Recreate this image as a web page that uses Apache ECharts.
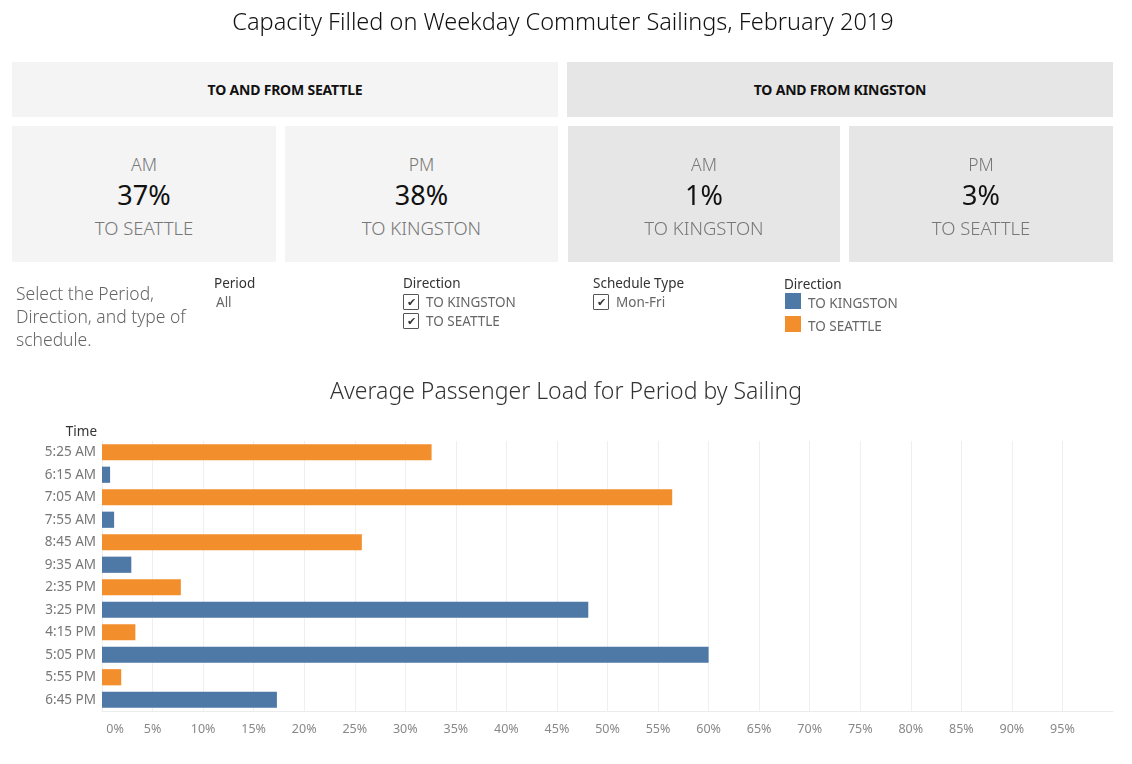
<!DOCTYPE html>
<html>
<head>
<meta charset="utf-8">
<script src="https://cdn.jsdelivr.net/npm/echarts@6/dist/echarts.min.js"></script>
<style>
  html, body { margin:0; padding:0; background:#fff; }
  body { width:1132px; height:764px; position:relative; overflow:hidden; font-family:"Noto Sans", Lato, sans-serif; }
  #chart { position:absolute; left:0; top:0; width:1132px; height:764px; }
  .abs { position:absolute; white-space:nowrap; }
  .box { position:absolute; }
  .hdr { font-weight:bold; font-size:14px; color:#111; display:flex; align-items:center; justify-content:center; letter-spacing:-0.2px; }
  .kpi { text-align:center; }
  .kpi .p { position:absolute; left:0; right:0; top:26px; font-size:17.5px; color:#777; font-weight:300; }
  .kpi .v { position:absolute; left:0; right:0; top:50px; font-size:27px; color:#111; }
  .kpi .d { position:absolute; left:0; right:0; top:89px; font-size:18.5px; color:#777; font-weight:300; }
  .flabel { font-size:13.5px; color:#333; }
  .fval { font-size:13.5px; color:#666; }
  .cb { position:absolute; width:14px; height:14px; border:1.5px solid #555; background:#fff; border-radius:1px; font-size:11px; line-height:14px; text-align:center; color:#333; }
  .sw { position:absolute; width:16px; height:16px; }
</style>
</head>
<body>
<div id="chart"></div>
<div id="overlay"></div>
<script>
// ---------- data ----------
var mainTitle = 'Capacity Filled on Weekday Commuter Sailings, February 2019';
var chartTitle = 'Average Passenger Load for Period by Sailing';
var groupHeaders = ['TO AND FROM SEATTLE', 'TO AND FROM KINGSTON'];
var kpiPeriods = ['AM', 'PM', 'AM', 'PM'];
var kpiValues = ['37%', '38%', '1%', '3%'];
var kpiDirections = ['TO SEATTLE', 'TO KINGSTON', 'TO KINGSTON', 'TO SEATTLE'];
var directionNames = ['TO KINGSTON', 'TO SEATTLE'];
var directionColors = ['#4e79a7', '#f28e2b'];
var categories = ['5:25 AM','6:15 AM','7:05 AM','7:55 AM','8:45 AM','9:35 AM','2:35 PM','3:25 PM','4:15 PM','5:05 PM','5:55 PM','6:45 PM'];
var sailingDirections = ['TO SEATTLE','TO KINGSTON','TO SEATTLE','TO KINGSTON','TO SEATTLE','TO KINGSTON','TO SEATTLE','TO KINGSTON','TO SEATTLE','TO KINGSTON','TO SEATTLE','TO KINGSTON'];
var loads = [32.6, 0.8, 56.4, 1.2, 25.7, 2.9, 7.8, 48.1, 3.3, 60.0, 1.9, 17.3];

// ---------- dashboard chrome ----------
var ov = document.getElementById('overlay');
function add(html) { ov.insertAdjacentHTML('beforeend', html); }

add('<div class="abs" style="left:0;width:1126px;top:5px;text-align:center;font-size:23.5px;color:#111;font-weight:300;">' + mainTitle + '</div>');

var hdrBoxes = [[12, 546, '#f4f4f4'], [567, 546, '#e6e6e6']];
hdrBoxes.forEach(function (b, i) {
  add('<div class="box hdr" style="left:' + b[0] + 'px;top:62px;width:' + b[1] + 'px;height:55px;background:' + b[2] + ';">' + groupHeaders[i] + '</div>');
});
var kpiBoxes = [[12, 264, '#f4f4f4'], [285, 273, '#f4f4f4'], [568, 272, '#e6e6e6'], [849, 264, '#e6e6e6']];
kpiBoxes.forEach(function (b, i) {
  add('<div class="box kpi" style="left:' + b[0] + 'px;top:126px;width:' + b[1] + 'px;height:136px;background:' + b[2] + ';">' +
      '<div class="p">' + kpiPeriods[i] + '</div><div class="v">' + kpiValues[i] + '</div><div class="d">' + kpiDirections[i] + '</div></div>');
});

add('<div class="abs" style="left:16px;top:282px;font-size:17.5px;line-height:23px;color:#666;white-space:normal;width:200px;font-weight:300;">Select the Period,<br>Direction, and type of<br>schedule.</div>');
add('<div class="abs flabel" style="left:214px;top:274px;">Period</div>');
add('<div class="abs fval" style="left:216px;top:293px;">All</div>');

add('<div class="abs flabel" style="left:403px;top:274px;">Direction</div>');
directionNames.forEach(function (n, i) {
  var y = 294 + i * 19;
  add('<div class="cb" style="left:403px;top:' + y + 'px;">&#10004;</div>');
  add('<div class="abs fval" style="left:426px;top:' + (y - 1) + 'px;">' + n + '</div>');
});

add('<div class="abs flabel" style="left:593px;top:274px;">Schedule Type</div>');
add('<div class="cb" style="left:593px;top:294px;">&#10004;</div>');
add('<div class="abs fval" style="left:616px;top:293px;">Mon-Fri</div>');

add('<div class="abs flabel" style="left:784px;top:275px;">Direction</div>');
directionNames.forEach(function (n, i) {
  var y = 293 + i * 23;
  add('<div class="sw" style="left:785px;top:' + y + 'px;background:' + directionColors[i] + ';"></div>');
  add('<div class="abs fval" style="left:808px;top:' + (y + 1) + 'px;">' + n + '</div>');
});

add('<div class="abs" style="left:40px;width:57px;top:422px;text-align:right;font-size:13.5px;color:#333;">Time</div>');

// ---------- bar chart ----------
var chart = echarts.init(document.getElementById('chart'), null, { renderer: 'canvas' });
var series = directionNames.map(function (d, k) {
  return {
    name: d,
    type: 'bar',
    stack: 'load',
    barWidth: '72%',
    itemStyle: { color: directionColors[k] },
    data: loads.map(function (v, i) { return sailingDirections[i] === d ? v : '-'; })
  };
});
chart.setOption({
  animation: false,
  textStyle: { fontFamily: '"Noto Sans", Lato, sans-serif' },
  title: {
    text: chartTitle, left: 'center', top: 376,
    textStyle: { fontSize: 23, fontWeight: 300, color: '#333', fontFamily: '"Noto Sans", sans-serif' }
  },
  grid: { left: 102, right: 19, top: 441, bottom: 53, containLabel: false },
  xAxis: {
    type: 'value', min: 0, max: 100, interval: 5,
    axisLine: { show: true, lineStyle: { color: '#ececec' } },
    axisTick: { show: false },
    splitLine: { show: true, showMaxLine: false, lineStyle: { color: '#efefef' } },
    axisLabel: {
      showMaxLabel: false, margin: 12, color: '#888', fontSize: 12.5,
      formatter: function (v) { return v === 0 ? '{z|0%}' : v + '%'; },
      rich: { z: { padding: [0, 0, 0, 26], color: '#888', fontSize: 12.5 } }
    }
  },
  yAxis: {
    type: 'category', data: categories, inverse: true,
    axisLine: { show: false }, axisTick: { show: false },
    axisLabel: { color: '#777', fontSize: 13.5, margin: 6 }
  },
  series: series
});
</script>
</body>
</html>
